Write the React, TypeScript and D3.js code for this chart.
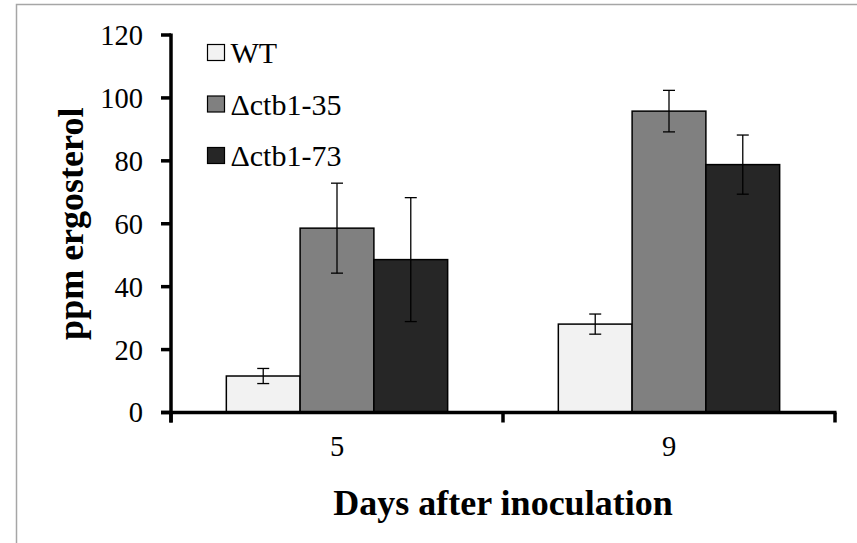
import React from 'react';
import * as d3 from 'd3';

const days = ['5', '9'];
const seriesNames = ['WT', '\u0394ctb1-35', '\u0394ctb1-73'];
const wtValues = [11.6, 28.1];
const ctb35Values = [58.6, 95.8];
const ctb73Values = [48.6, 78.8];
const wtErrors = [2.4, 3.2];
const ctb35Errors = [14.3, 6.6];
const ctb73Errors = [19.7, 9.4];
const yTicks = [0, 20, 40, 60, 80, 100, 120];

const fills = ['#f2f2f2', '#808080', '#262626'];
const font = '"Liberation Serif", "Times New Roman", "DejaVu Serif", serif';

const App = () => {
  const width = 857;
  const height = 543;
  const left = 171;
  const right = 835;
  const top = 35;
  const bottom = 412.5;

  const values = [wtValues, ctb35Values, ctb73Values];
  const errors = [wtErrors, ctb35Errors, ctb73Errors];

  const x = d3.scaleBand().domain(days).range([left, right]).padding(0);
  const xs = d3
    .scaleBand()
    .domain(seriesNames)
    .range([0, x.bandwidth()])
    .paddingInner(0)
    .paddingOuter(0.75);
  const y = d3.scaleLinear().domain([0, 120]).range([bottom, top]);

  const cap = 6;

  return (
    <svg
      width={width}
      height={height}
      style={{position: 'absolute', left: 0, top: 0, background: '#fff'}}
      fontFamily={font}
    >
      {/* frame */}
      <rect x={16.5} y={4.5} width={900} height={600} fill="none" stroke="#a6a6a6" strokeWidth={1.5} />

      {/* bars */}
      {seriesNames.map((s, si) =>
        days.map((d, di) => {
          const bx = (x(d) ?? 0) + (xs(s) ?? 0);
          const v = values[si][di];
          return (
            <rect
              key={s + d}
              x={bx}
              y={y(v)}
              width={xs.bandwidth()}
              height={bottom - y(v)}
              fill={fills[si]}
              stroke="#000"
              strokeWidth={1.5}
            />
          );
        })
      )}

      {/* error bars */}
      {seriesNames.map((s, si) =>
        days.map((d, di) => {
          const cx = (x(d) ?? 0) + (xs(s) ?? 0) + xs.bandwidth() / 2;
          const v = values[si][di];
          const e = errors[si][di];
          return (
            <g key={'e' + s + d} stroke="#000" strokeWidth={1.3}>
              <line x1={cx} x2={cx} y1={y(v + e)} y2={y(v - e)} />
              <line x1={cx - cap} x2={cx + cap} y1={y(v + e)} y2={y(v + e)} />
              <line x1={cx - cap} x2={cx + cap} y1={y(v - e)} y2={y(v - e)} />
            </g>
          );
        })
      )}

      {/* y axis */}
      <line x1={left} x2={left} y1={top - 1.5} y2={bottom + 10} stroke="#000" strokeWidth={3.5} />
      {yTicks.map(t => (
        <g key={t}>
          <line x1={left - 10} x2={left} y1={y(t)} y2={y(t)} stroke="#000" strokeWidth={3.5} />
          <text x={143} y={y(t)} dy="0.35em" textAnchor="end" fontSize={28.5}>
            {t}
          </text>
        </g>
      ))}

      {/* x axis */}
      <line x1={left - 10} x2={right + 1.5} y1={bottom} y2={bottom} stroke="#000" strokeWidth={3.5} />
      {[left, ...days.map(d => (x(d) ?? 0) + x.bandwidth())].map((p, i) => (
        <line key={i} x1={p} x2={p} y1={bottom} y2={bottom + 10} stroke="#000" strokeWidth={3.5} />
      ))}
      {days.map(d => (
        <text key={d} x={(x(d) ?? 0) + x.bandwidth() / 2} y={456} textAnchor="middle" fontSize={28.5}>
          {d}
        </text>
      ))}

      {/* titles */}
      <text x={(left + right) / 2} y={515} textAnchor="middle" fontSize={36} fontWeight="bold">
        Days after inoculation
      </text>
      <text
        transform={`translate(83,${(top + bottom) / 2}) rotate(-90)`}
        textAnchor="middle"
        fontSize={36}
        fontWeight="bold"
      >
        ppm ergosterol
      </text>

      {/* legend */}
      {seriesNames.map((s, i) => (
        <g key={'l' + s} transform={`translate(207.5,${44.5 + i * 51.5})`}>
          <rect width={17} height={16} fill={fills[i]} stroke="#000" strokeWidth={1.2} />
          <text x={23} y={8} dy="0.35em" fontSize={30}>
            {s}
          </text>
        </g>
      ))}
    </svg>
  );
};

export default App;
